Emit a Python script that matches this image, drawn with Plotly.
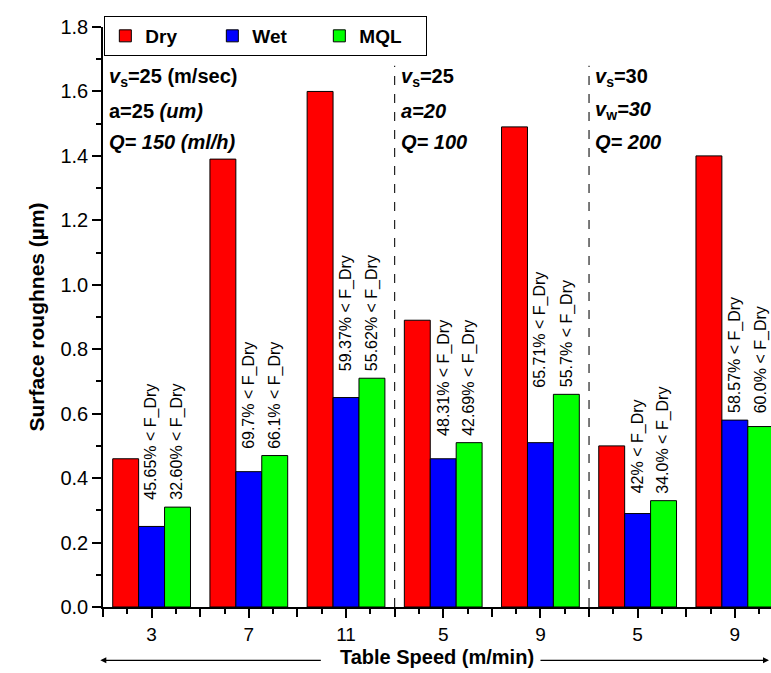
import plotly.graph_objects as go
import numpy as np

# ---------------- data ----------------
speeds = ["3", "7", "11", "5", "9", "5", "9"]
dry = [0.46, 1.39, 1.60, 0.89, 1.49, 0.50, 1.40]
wet = [0.25, 0.42, 0.65, 0.46, 0.51, 0.29, 0.58]
mql = [0.31, 0.47, 0.71, 0.51, 0.66, 0.33, 0.56]
wet_pct = ["45.65%", "69.7%", "59.37%", "48.31%", "65.71%", "42%", "58.57%"]
mql_pct = ["32.60%", "66.1%", "55.62%", "42.69%", "55.7%", "34.0%", "60.0%"]
section_sizes = [3, 2, 2]
section_text = [
    ["<b><i>v</i><sub>s</sub>=25 (m/sec)</b>", "<b>a=25 <i>(um)</i></b>", "<b><i>Q= 150 (ml/h)</i></b>"],
    ["<b><i>v</i><sub>s</sub>=25</b>", "<b><i>a=20</i></b>", "<b><i>Q= 100</i></b>"],
    ["<b><i>v</i><sub>s</sub>=30</b>", "<b><i>v</i><sub>w</sub><i>=30</i></b>", "<b><i>Q= 200</i></b>"],
]

FONT = "Arial, Liberation Sans, sans-serif"
xs = list(range(len(speeds)))
bargap = 0.2
bw = (1 - bargap) / 3
xrange = [-0.5, 6.372]

fig = go.Figure()
for name, vals, col in [("Dry", dry, "#FF0000"), ("Wet", wet, "#0000FF"), ("MQL", mql, "#00FF00")]:
    fig.add_trace(go.Bar(x=xs, y=vals, name=f"<b>{name}</b>",
                         marker=dict(color=col, line=dict(color="black", width=1))))

annotations = []
# percentage labels (rotated) above wet & mql bars
for i in xs:
    base = max(wet[i], mql[i])
    for pct, off in [(wet_pct[i], 0.0), (mql_pct[i], bw)]:
        annotations.append(dict(x=i + off, y=base, xref="x", yref="y", text=f"{pct} < F_Dry",
                                textangle=-90, showarrow=False, xanchor="center", yanchor="bottom",
                                yshift=5, font=dict(family=FONT, size=16, color="black")))

# section separators and condition text
bounds = np.cumsum(section_sizes) - 0.5
starts = [-0.5] + list(bounds[:-1])
shapes = []
for b in bounds[:-1]:
    shapes.append(dict(type="line", xref="x", yref="y", x0=b, x1=b, y0=0, y1=1.68,
                       line=dict(color="#222222", width=1.2, dash="dash")))
line_y = [1.642, 1.540, 1.443]
for s, lines in zip(starts, section_text):
    for ly, t in zip(line_y, lines):
        annotations.append(dict(x=s + 0.045, y=ly, xref="x", yref="y", text=t, showarrow=False,
                                xanchor="left", yanchor="middle", font=dict(family=FONT, size=20, color="black")))

# arrows around x-axis title
annotations.append(dict(x=-0.004, y=-0.092, xref="paper", yref="paper", ax=222, ay=0, text="",
                        showarrow=True, arrowhead=2, arrowsize=1, arrowwidth=1.2, arrowcolor="black"))
annotations.append(dict(x=0.997, y=-0.092, xref="paper", yref="paper", ax=-230, ay=0, text="",
                        showarrow=True, arrowhead=2, arrowsize=1, arrowwidth=1.2, arrowcolor="black"))

group_bounds = [i - 0.5 for i in range(len(speeds) + 1)]

fig.update_layout(
    width=771, height=673,
    margin=dict(l=103, r=0, t=27, b=66),
    paper_bgcolor="white", plot_bgcolor="white",
    barmode="group", bargap=bargap, bargroupgap=0,
    font=dict(family=FONT, color="black"),
    shapes=shapes, annotations=annotations,
    legend=dict(orientation="h", x=0.002, y=1.019, xanchor="left", yanchor="top",
                bordercolor="black", borderwidth=1, bgcolor="white",
                font=dict(family=FONT, size=19, color="black"),
                entrywidth=62, entrywidthmode="pixels", traceorder="normal"),
    xaxis=dict(range=xrange, tickmode="array", tickvals=xs, ticktext=speeds,
               ticks="outside", ticklen=9, tickwidth=1.5, tickcolor="black",
               showline=True, linecolor="black", linewidth=1.5, showgrid=False, zeroline=False,
               tickfont=dict(family=FONT, size=19),
               minor=dict(tickmode="linear", tick0=-0.5, dtick=0.25, ticks="outside", ticklen=5,
                          tickwidth=1.5, tickcolor="black", showgrid=False),
               title=dict(text="<b>Table Speed (m/min)</b>", font=dict(family=FONT, size=20), standoff=6)),
    xaxis2=dict(range=xrange, overlaying="x", side="bottom", anchor="y", matches="x",
                tickmode="array", tickvals=group_bounds, showticklabels=False,
                ticks="outside", ticklen=9, tickwidth=1.5, tickcolor="black",
                showline=False, showgrid=False, zeroline=False),
    yaxis=dict(range=[0, 1.8], dtick=0.2, tick0=0, tickformat=".1f",
               ticks="outside", ticklen=9, tickwidth=1.5, tickcolor="black",
               showline=True, linecolor="black", linewidth=1.5, showgrid=False, zeroline=False,
               tickfont=dict(family=FONT, size=20),
               minor=dict(dtick=0.1, ticks="outside", ticklen=5, tickwidth=1.5, tickcolor="black", showgrid=False),
               title=dict(text="<b>Surface roughnes (µm)</b>", font=dict(family=FONT, size=21), standoff=10)),
)
# invisible helper trace so the boundary-tick axis is drawn
fig.add_trace(go.Scatter(x=[xs[0]], y=[dry[0]], xaxis="x2", mode="markers",
                         marker=dict(opacity=0), showlegend=False, hoverinfo="skip"))

fig.write_html("out.html")
